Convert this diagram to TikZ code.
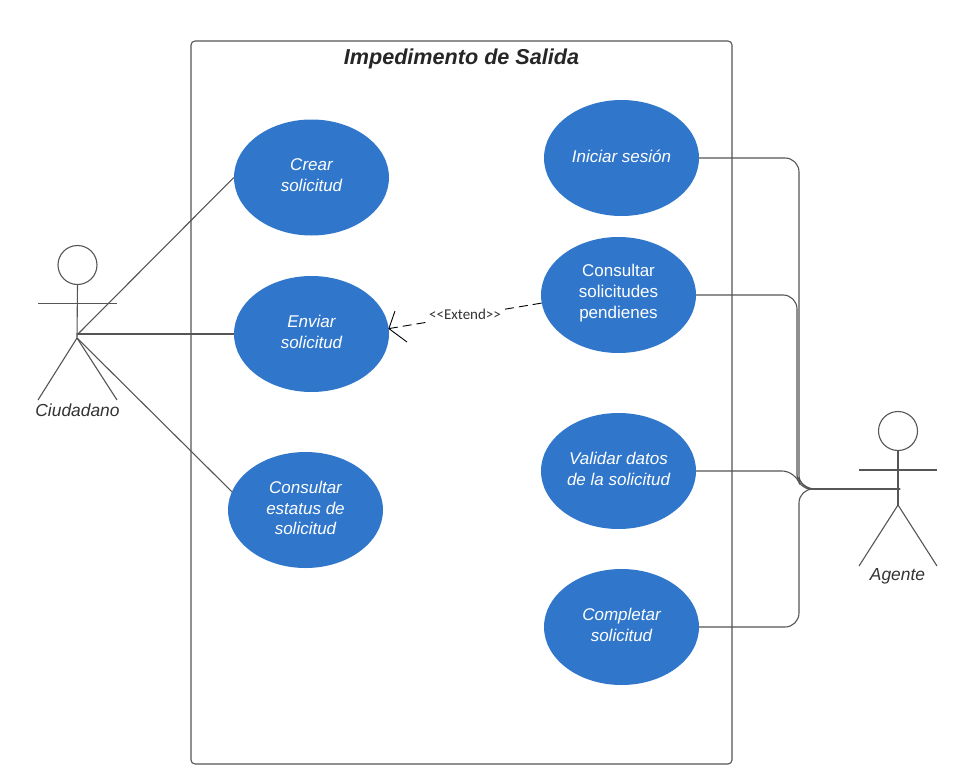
\documentclass[tikz,border=0pt]{standalone}
\usepackage{fontspec}
\setmainfont{Liberation Sans}
\newfontfamily\extfont{Carlito}
\usetikzlibrary{shapes.geometric,calc}
\definecolor{ucblue}{HTML}{3077CC}
\definecolor{ln}{HTML}{555555}
\definecolor{txt}{HTML}{333333}
\tikzset{
  x=1pt,y=-1pt,
  usecase/.style={ellipse,fill=ucblue,minimum width=155pt,minimum height=116pt,inner sep=0pt},
  uctext/.style={align=center,text=white,inner sep=0pt,yshift=2pt,font=\fontsize{17}{20.8}\selectfont},
  ucital/.style={uctext,font=\fontsize{17}{20.8}\selectfont\itshape},
  stick/.style={draw=ln,line width=1.1pt},
  wire/.style={draw=ln,line width=1.1pt,rounded corners=14pt},
  assoc/.style={draw=ln,line width=1.1pt},
  extline/.style={draw=black,line width=0.9pt},
  actorlabel/.style={text=txt,inner sep=0pt,font=\fontsize{17.4}{20}\selectfont\itshape},
}
\begin{document}
\begin{tikzpicture}
\useasboundingbox (0,0) rectangle (975,784);
\fill[white] (0,0) rectangle (975,784);
\draw[draw=ln,line width=1.1pt,rounded corners=4pt] (191,41) rectangle (732,764);
\node[text=black!85,inner sep=0pt,font=\fontsize{21.6}{25}\selectfont\bfseries\itshape] (title) at (461.5,58.5) {Impedimento de Salida};

\node[usecase,label={[ucital]center:{Crear\\solicitud}}] (crear) at (311.5,177.5) {};
\node[usecase,label={[ucital]center:{Enviar\\solicitud}}] (enviar) at (311.5,334) {};
\node[usecase,label={[ucital]center:{Consultar\\estatus de\\solicitud}}] (estatus) at (305.5,510) {};
\node[usecase,label={[ucital]center:{Iniciar sesión}}] (iniciar) at (621.5,158) {};
\node[usecase,label={[uctext]center:{Consultar\\solicitudes\\pendienes}}] (pend) at (618.5,295) {};
\node[usecase,label={[ucital]center:{Validar datos\\de la solicitud}}] (validar) at (618.5,471) {};
\node[usecase,label={[ucital]center:{Completar\\solicitud}}] (compl) at (621.5,627) {};

% Ciudadano
\node[circle,stick,minimum size=39pt,inner sep=0pt] (chead) at (77.5,265) {};
\coordinate (chip) at (77,338);
\draw[stick] (chead.south) -- (chip);
\draw[stick] (38,303.5) -- (117,303.5);
\draw[stick] (chip) -- (38,400);
\draw[stick] (chip) -- (117,400);
\node[actorlabel] (clabel) at (77.5,410) {Ciudadano};

% Agente
\node[circle,stick,minimum size=39pt,inner sep=0pt] (ahead) at (898,431) {};
\coordinate (ahip) at (898,505);
\coordinate (ahand) at (900,489);
\draw[stick] (ahead.south) -- (ahip);
\draw[stick] (859,470) -- (937,470);
\draw[stick] (ahip) -- (859,566);
\draw[stick] (ahip) -- (937,566);
\node[actorlabel] (alabel) at (897.5,576.5) {Agente};

% Associations
\draw[assoc] (77,335) -- (crear.west);
\draw[assoc] (77,334) -- (enviar.west);
\draw[assoc] (chip) -- (estatus.166);

\draw[wire] (iniciar.east) -- (799,158) -- (799,489) -- (ahand);
\draw[wire] (pend.east) -- (797,295) -- (797,489) -- (ahand);
\draw[wire] (validar.east) -- (796,471) -- (801,489) -- (ahand);
\draw[wire] (compl.east) -- (799,627) -- (799,489) -- (ahand);

% Extend
\node[text=txt,inner sep=0pt,font=\extfont\fontsize{15}{18}\selectfont] (ext) at (465,314.5) {<<Extend>>};
\draw[extline,dash pattern=on 9pt off 5pt] (enviar.4) -- ($(enviar.4)!0.245!(pend.186)$);
\draw[extline,dash pattern=on 9pt off 5pt] (pend.186) -- ($(pend.186)!0.26!(enviar.4)$);
\coordinate (tipa) at (395,311);
\coordinate (tipb) at (407,342);
\draw[extline] (tipa) -- (enviar.4) -- (tipb);
\end{tikzpicture}
\end{document}
